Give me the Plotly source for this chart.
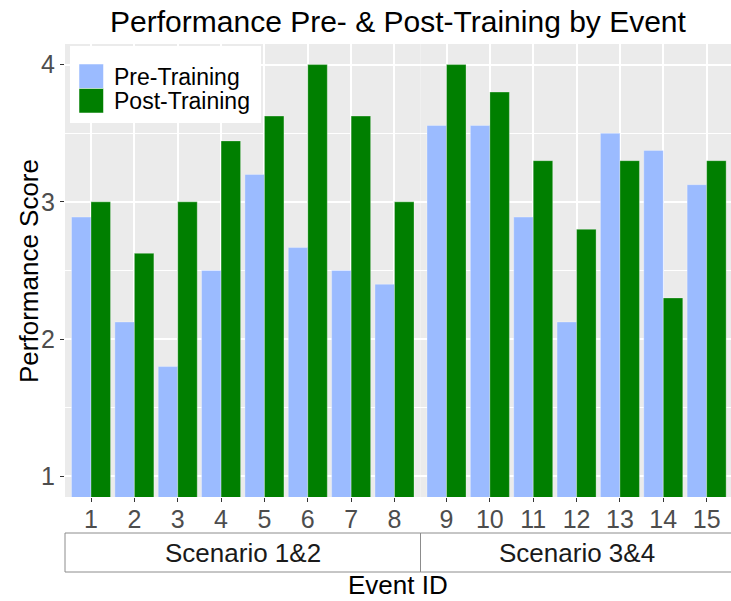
import plotly.graph_objects as go

# Event scores, split by scenario group
events_a = ["1", "2", "3", "4", "5", "6", "7", "8"]
pre_a = [2.889, 2.125, 1.8, 2.5, 3.2, 2.667, 2.5, 2.4]
post_a = [3.0, 2.625, 3.0, 3.444, 3.625, 4.0, 3.625, 3.0]

events_b = ["9", "10", "11", "12", "13", "14", "15"]
pre_b = [3.556, 3.556, 2.889, 2.125, 3.5, 3.375, 3.125]
post_b = [4.0, 3.8, 3.3, 2.8, 3.3, 2.3, 3.3]

groups = ["Scenario 1&2", "Scenario 3&4"]
series = ["Pre-Training", "Post-Training"]
y_ticks = [1, 2, 3, 4]

PRE_COLOR = "#9BBBFF"
POST_COLOR = "#007F00"
FONT = "Liberation Sans, Arial, sans-serif"

W, H = 731, 601
ML, MR, MT, MB = 65, 0, 44, 104
PW, PH = W - ML - MR, H - MT - MB


def px_x(px):
    return (px - ML) / PW


def px_y(py):
    return (H - MB - py) / PH


split = px_x(420.5)

fig = go.Figure()
edge = dict(color="rgba(255,255,255,0.3)", width=1)
fig.add_trace(go.Bar(x=events_a, y=pre_a, name=series[0], marker=dict(color=PRE_COLOR, line=edge),
                     xaxis="x", yaxis="y", showlegend=False))
fig.add_trace(go.Bar(x=events_a, y=post_a, name=series[1], marker=dict(color=POST_COLOR, line=edge),
                     xaxis="x", yaxis="y", showlegend=False))
fig.add_trace(go.Bar(x=events_b, y=pre_b, name=series[0], marker=dict(color=PRE_COLOR, line=edge),
                     xaxis="x2", yaxis="y", showlegend=False))
fig.add_trace(go.Bar(x=events_b, y=post_b, name=series[1], marker=dict(color=POST_COLOR, line=edge),
                     xaxis="x2", yaxis="y", showlegend=False))

unit = (420.5 - ML) / 8.2
right_span = (W - 420.5) / unit

TICK_FONT = dict(family=FONT, size=25, color="#4D4D4D")
xcommon = dict(type="category", showgrid=True, gridcolor="white", gridwidth=2,
               ticks="outside", ticklen=4, tickcolor="#333333", tickwidth=1,
               ticklabelstandoff=-4,
               tickfont=TICK_FONT, showline=False, zeroline=False, anchor="y")

fig.update_layout(
    width=W, height=H,
    margin=dict(l=ML, r=MR, t=MT, b=MB),
    paper_bgcolor="white", plot_bgcolor="#EBEBEB",
    barmode="group", bargap=0.1, bargroupgap=0,
    font=dict(family=FONT),
    title=dict(text="Performance Pre- & Post-Training by Event", x=0.5 * (ML + W) / W, xanchor="center",
               y=1 - 21 / H, yanchor="middle", font=dict(family=FONT, size=30, color="black")),
    xaxis=dict(domain=[0, split], range=[-0.6, 7.6], **xcommon),
    xaxis2=dict(domain=[split, 1], range=[-0.6, right_span - 0.6], **xcommon),
    yaxis=dict(range=[0.85, 4.15], tickvals=y_ticks, showgrid=True, gridcolor="white", gridwidth=2,
               ticks="outside", ticklen=4, tickcolor="#333333", tickwidth=1,
               tickfont=TICK_FONT,
               minor=dict(tickvals=[1.5, 2.5, 3.5], showgrid=True, gridcolor="white", gridwidth=1, ticks=""),
               zeroline=False, showline=False),
)

shapes = []
annotations = []

# Facet strips below the tick labels
strip_top, strip_bot = px_y(533), px_y(572)
for x0, x1, label in [(0, split, groups[0]), (split, 1.01, groups[1])]:
    shapes.append(dict(type="rect", xref="paper", yref="paper", x0=x0, x1=x1, y0=strip_bot, y1=strip_top,
                       fillcolor="white", line=dict(color="#8C8C8C", width=1)))
    annotations.append(dict(xref="paper", yref="paper", x=(x0 + min(x1, px_x(733.4))) / 2,
                            y=(strip_top + strip_bot) / 2, text=label, showarrow=False,
                            font=dict(family=FONT, size=26, color="#1A1A1A"),
                            xanchor="center", yanchor="middle"))

# Axis titles
annotations.append(dict(xref="paper", yref="paper", x=0.5, y=px_y(585), text="Event ID", showarrow=False,
                        font=dict(family=FONT, size=26, color="black"), xanchor="center", yanchor="middle"))
annotations.append(dict(xref="paper", yref="paper", x=px_x(29), y=px_y(271), text="Performance Score",
                        showarrow=False, textangle=-90,
                        font=dict(family=FONT, size=26, color="black"), xanchor="center", yanchor="middle"))

# Legend box inside the left panel
shapes.append(dict(type="rect", xref="paper", yref="paper", x0=px_x(70), x1=px_x(261), y0=px_y(123), y1=px_y(46),
                   fillcolor="white", line=dict(width=0)))
for i, (name, color) in enumerate(zip(series, [PRE_COLOR, POST_COLOR])):
    top = 64 + i * 24.5
    shapes.append(dict(type="rect", xref="paper", yref="paper", x0=px_x(79), x1=px_x(103.5),
                       y0=px_y(top + 24.5), y1=px_y(top), fillcolor=color,
                       line=dict(color="rgba(255,255,255,0.5)", width=1)))
    annotations.append(dict(xref="paper", yref="paper", x=px_x(112), y=px_y(top + 12.5), text=name,
                            showarrow=False, font=dict(family=FONT, size=23, color="black"),
                            xanchor="left", yanchor="middle"))

fig.update_layout(shapes=shapes, annotations=annotations)
fig.write_html("out.html")
